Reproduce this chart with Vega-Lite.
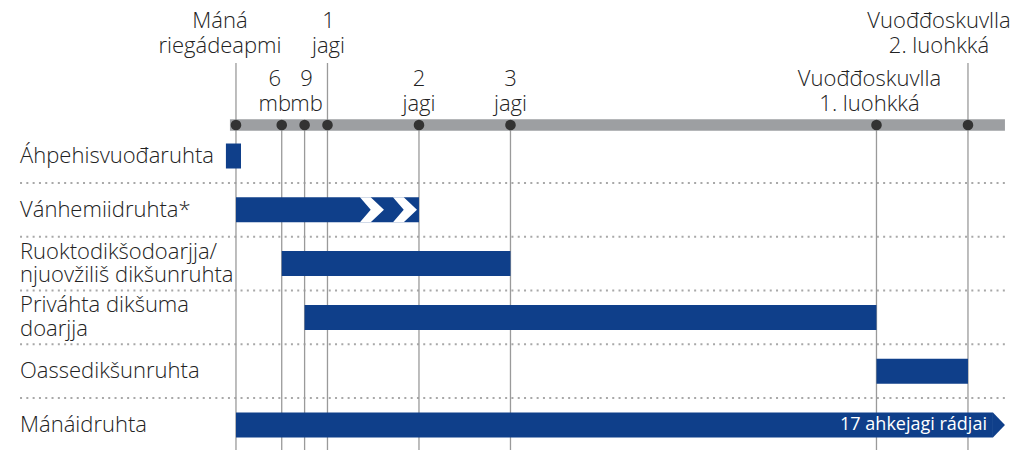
{
  "$schema": "https://vega.github.io/schema/vega-lite/v6.json",
  "width": 1014,
  "height": 450,
  "padding": 0,
  "autosize": {"type": "none"},
  "background": "white",
  "config": {
    "view": {"stroke": null},
    "text": {"font": "Open Sans", "fontWeight": 300, "fontSize": 22, "color": "#222222", "lineBreak": "\n"}
  },
  "datasets": {
    "ticks": [
      {"t": 0, "label": "Máná\nriegádeapmi", "tier": 1},
      {"t": 0.5, "label": "6\nmb", "tier": 2},
      {"t": 0.75, "label": "9\nmb", "tier": 2},
      {"t": 1, "label": "1\njagi", "tier": 1},
      {"t": 2, "label": "2\njagi", "tier": 2},
      {"t": 3, "label": "3\njagi", "tier": 2},
      {"t": 7, "label": "Vuođđoskuvlla\n1. luohkká", "tier": 2},
      {"t": 8, "label": "Vuođđoskuvlla\n2. luohkká", "tier": 1}
    ],
    "benefits": [
      {"row": 1, "name": "Áhpehisvuođaruhta", "start": -0.11, "end": 0.055, "lines": 1},
      {"row": 2, "name": "Vánhemiidruhta*", "start": 0, "end": 2, "lines": 1},
      {"row": 3, "name": "Ruoktodikšodoarjja/\nnjuovžiliš dikšunruhta", "start": 0.5, "end": 3, "lines": 2},
      {"row": 4, "name": "Priváhta dikšuma\ndoarjja", "start": 0.75, "end": 7, "lines": 2},
      {"row": 5, "name": "Oassedikšunruhta", "start": 7, "end": 8, "lines": 1},
      {"row": 6, "name": "Mánáidruhta", "start": 0, "end": 8.273, "lines": 1, "note": "17 ahkejagi rádjai"}
    ],
    "dividers": [{"pos": 1.5}, {"pos": 2.5}, {"pos": 3.5}, {"pos": 4.5}, {"pos": 5.5}],
    "chevrons": [{"row": 2, "t": 1.486}, {"row": 2, "t": 1.847}]
  },
  "layer": [
    {
      "data": {"name": "dividers"},
      "mark": {"type": "rule", "color": "#a8a8a8", "strokeWidth": 2, "strokeDash": [2, 4.3], "strokeCap": "butt"},
      "encoding": {
        "x": {"datum": -2.36, "type": "quantitative", "scale": {"domain": [-2.579, 8.503], "nice": false, "zero": false}, "axis": null},
        "x2": {"datum": 8.404},
        "y": {"field": "pos", "type": "quantitative", "scale": {"domain": [-1.9, 6.465], "nice": false, "zero": false, "reverse": true}, "axis": null}
      }
    },
    {
      "data": {"name": "ticks"},
      "mark": {"type": "rule", "color": "#9a9a9a", "strokeWidth": 1.3},
      "encoding": {
        "x": {"field": "t", "type": "quantitative"},
        "y": {"datum": 0.424, "type": "quantitative"},
        "y2": {"datum": 6.465}
      }
    },
    {
      "data": {"name": "ticks"},
      "transform": [{"filter": "datum.tier == 1"}],
      "mark": {"type": "rule", "color": "#9a9a9a", "strokeWidth": 1.3},
      "encoding": {
        "x": {"field": "t", "type": "quantitative"},
        "y": {"datum": -0.729, "type": "quantitative"},
        "y2": {"datum": 0.424}
      }
    },
    {
      "data": {"values": [{}]},
      "mark": {"type": "rule", "color": "#9d9fa2", "strokeWidth": 11.5, "strokeCap": "butt"},
      "encoding": {
        "x": {"datum": -0.066, "type": "quantitative"},
        "x2": {"datum": 8.404},
        "y": {"datum": 0.424, "type": "quantitative"}
      }
    },
    {
      "data": {"name": "ticks"},
      "mark": {"type": "circle", "color": "#333333", "size": 113, "opacity": 1},
      "encoding": {
        "x": {"field": "t", "type": "quantitative"},
        "y": {"datum": 0.424, "type": "quantitative"}
      }
    },
    {
      "data": {"name": "ticks"},
      "transform": [{"filter": "datum.t == 0"}],
      "mark": {"type": "text", "align": "center", "baseline": "middle", "lineHeight": 25, "dx": -16},
      "encoding": {"x": {"field": "t", "type": "quantitative"}, "y": {"datum": -1.502, "type": "quantitative"}, "text": {"field": "label"}}
    },
    {
      "data": {"name": "ticks"},
      "transform": [{"filter": "datum.t == 1"}],
      "mark": {"type": "text", "align": "center", "baseline": "middle", "lineHeight": 25, "dx": 1},
      "encoding": {"x": {"field": "t", "type": "quantitative"}, "y": {"datum": -1.502, "type": "quantitative"}, "text": {"field": "label"}}
    },
    {
      "data": {"name": "ticks"},
      "transform": [{"filter": "datum.t == 8"}],
      "mark": {"type": "text", "align": "center", "baseline": "middle", "lineHeight": 25, "dx": -29},
      "encoding": {"x": {"field": "t", "type": "quantitative"}, "y": {"datum": -1.502, "type": "quantitative"}, "text": {"field": "label"}}
    },
    {
      "data": {"name": "ticks"},
      "transform": [{"filter": "datum.t == 0.5"}],
      "mark": {"type": "text", "align": "center", "baseline": "middle", "lineHeight": 25, "dx": -7},
      "encoding": {"x": {"field": "t", "type": "quantitative"}, "y": {"datum": -0.433, "type": "quantitative"}, "text": {"field": "label"}}
    },
    {
      "data": {"name": "ticks"},
      "transform": [{"filter": "datum.t == 0.75"}],
      "mark": {"type": "text", "align": "center", "baseline": "middle", "lineHeight": 25, "dx": 2},
      "encoding": {"x": {"field": "t", "type": "quantitative"}, "y": {"datum": -0.433, "type": "quantitative"}, "text": {"field": "label"}}
    },
    {
      "data": {"name": "ticks"},
      "transform": [{"filter": "datum.t == 2 || datum.t == 3"}],
      "mark": {"type": "text", "align": "center", "baseline": "middle", "lineHeight": 25},
      "encoding": {"x": {"field": "t", "type": "quantitative"}, "y": {"datum": -0.433, "type": "quantitative"}, "text": {"field": "label"}}
    },
    {
      "data": {"name": "ticks"},
      "transform": [{"filter": "datum.t == 7"}],
      "mark": {"type": "text", "align": "center", "baseline": "middle", "lineHeight": 25, "dx": -7},
      "encoding": {"x": {"field": "t", "type": "quantitative"}, "y": {"datum": -0.433, "type": "quantitative"}, "text": {"field": "label"}}
    },
    {
      "data": {"name": "benefits"},
      "mark": {"type": "rule", "color": "#0f3f8a", "strokeWidth": 25, "strokeCap": "butt"},
      "encoding": {
        "x": {"field": "start", "type": "quantitative"},
        "x2": {"field": "end"},
        "y": {"field": "row", "type": "quantitative"}
      }
    },
    {
      "data": {"name": "benefits"},
      "transform": [{"filter": "datum.row == 6"}],
      "mark": {"type": "point", "shape": "M0,-1L0.96,0L0,1Z", "size": 625, "filled": true, "opacity": 1, "color": "#0f3f8a", "strokeWidth": 0},
      "encoding": {
        "x": {"field": "end", "type": "quantitative"},
        "y": {"field": "row", "type": "quantitative"}
      }
    },
    {
      "data": {"name": "chevrons"},
      "mark": {"type": "point", "shape": "M-0.96,-1L-0.1,-1L0.96,0L-0.1,1L-0.96,1L-0.1,0Z", "size": 625, "filled": true, "opacity": 1, "color": "#ffffff", "strokeWidth": 0},
      "encoding": {
        "x": {"field": "t", "type": "quantitative"},
        "y": {"field": "row", "type": "quantitative"}
      }
    },
    {
      "data": {"name": "benefits"},
      "transform": [{"filter": "datum.lines == 1"}],
      "mark": {"type": "text", "align": "left", "baseline": "middle"},
      "encoding": {
        "x": {"datum": -2.36, "type": "quantitative"},
        "y": {"field": "row", "type": "quantitative"},
        "text": {"field": "name"}
      }
    },
    {
      "data": {"name": "benefits"},
      "transform": [{"filter": "datum.lines == 2"}],
      "mark": {"type": "text", "align": "left", "baseline": "middle", "lineHeight": 23.5, "dy": -12},
      "encoding": {
        "x": {"datum": -2.36, "type": "quantitative"},
        "y": {"field": "row", "type": "quantitative"},
        "text": {"field": "name"}
      }
    },
    {
      "data": {"name": "benefits"},
      "transform": [{"filter": "datum.note != null"}],
      "mark": {"type": "text", "align": "right", "baseline": "middle", "fontSize": 18, "fontWeight": 400, "color": "#ffffff", "dx": -6},
      "encoding": {
        "x": {"field": "end", "type": "quantitative"},
        "y": {"field": "row", "type": "quantitative"},
        "text": {"field": "note"}
      }
    }
  ]
}
